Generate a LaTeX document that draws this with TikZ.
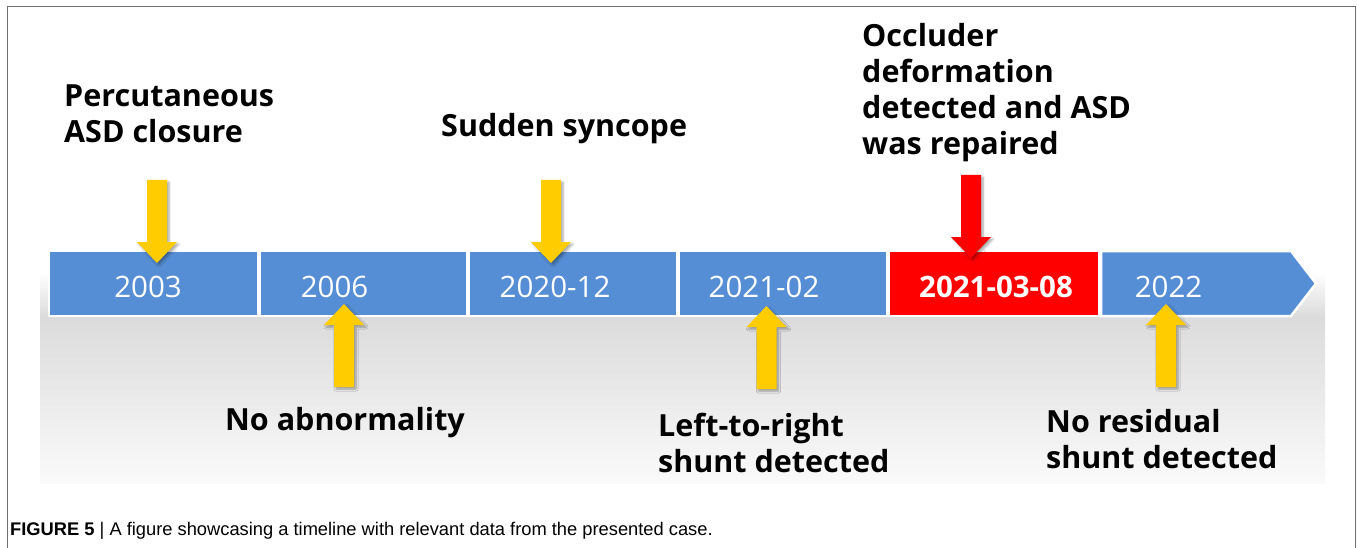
\documentclass[tikz,border=0pt]{standalone}
\usepackage{fontspec}
\setmainfont{Open Sans}
\newfontfamily\capfont{Liberation Sans}
\usetikzlibrary{shadows.blur}
\definecolor{segblue}{HTML}{558ED5}
\definecolor{segred}{HTML}{FF0000}
\definecolor{arrowyellow}{HTML}{FFCC00}
\definecolor{framegray}{HTML}{6E6E6E}
\newcommand\DownArrow[3]{%
  \fill[arrowsh,fill=#3] (#1-10,#2-83) -- (#1+10,#2-83) -- (#1+10,#2-21) -- (#1+20,#2-21) -- (#1,#2) -- (#1-20,#2-21) -- (#1-10,#2-21) -- cycle;}
\newcommand\UpArrow[3]{%
  \fill[arrowsh,fill=#3] (#1-10,#2+83) -- (#1+10,#2+83) -- (#1+10,#2+21) -- (#1+20,#2+21) -- (#1,#2) -- (#1-20,#2+21) -- (#1-10,#2+21) -- cycle;}
\begin{document}
\begin{tikzpicture}[x=1pt,y=-1pt,
  seg/.style={fill=segblue,draw=white,line width=2.5pt},
  arrowsh/.style={blur shadow={shadow xshift=2pt,shadow yshift=-2pt,shadow blur steps=6,shadow opacity=35}},
  evt/.style={font=\fontsize{30.5}{36}\selectfont\bfseries,align=left,anchor=base west,inner sep=0pt,text=black},
  yr/.style={font=\fontsize{29.5}{34}\selectfont,text=white,anchor=base,inner sep=0pt}]
\useasboundingbox (0,0) rectangle (1357,548);
% frame
\draw[framegray,line width=1.3pt] (7.5,548) -- (7.5,6.5) -- (1355.5,6.5) -- (1355.5,548);
% reflection shadow
\shade[top color=white,bottom color=black!14] (40,272) rectangle (1325,317);
\shade[top color=black!14,bottom color=black!2] (40,317) rectangle (1325,483);
% timeline segments
\path[seg] (49,251) rectangle (258,316);
\path[seg] (260,251) rectangle (467,316);
\path[seg] (469,251) rectangle (677,316);
\path[seg] (679,251) rectangle (887,316);
\path[seg,fill=segred] (889,251) rectangle (1099,316);
\path[seg] (1101,251) -- (1291,251) -- (1316,283.5) -- (1291,316) -- (1101,316) -- cycle;
% year labels
\node[yr] (y1) at (148,297) {2003};
\node[yr] (y2) at (334.5,297) {2006};
\node[yr] (y3) at (555,297) {2020-12};
\node[yr] (y4) at (764,297) {2021-02};
\node[yr,font=\fontsize{29.5}{34}\selectfont\bfseries] (y5) at (996,297) {2021-03-08};
\node[yr] (y6) at (1168.5,297) {2022};
% arrows
\DownArrow{157}{263}{arrowyellow}
\DownArrow{551}{263}{arrowyellow}
\DownArrow{971}{258}{segred}
\UpArrow{344}{304}{arrowyellow}
\UpArrow{766.5}{306}{arrowyellow}
\UpArrow{1166}{304}{arrowyellow}
% event labels (anchor at baseline of last line)
\node[evt] (e1) at (64,143) {Percutaneous\\ASD closure};
\node[evt] (e2) at (441,137) {Sudden syncope};
\node[evt] (e3) at (862,155) {Occluder\\deformation\\detected and ASD\\was repaired};
\node[evt] (e4) at (225,430) {No abnormality};
\node[evt] (e5) at (658,472) {Left-to-right\\shunt detected};
\node[evt] (e6) at (1046,468) {No residual\\shunt detected};
% caption
\node[anchor=base west,inner sep=0pt,font=\capfont\fontsize{18.3}{21}\selectfont] (cap) at (10,535)
  {\textbf{FIGURE 5} | A figure showcasing a timeline with relevant data from the presented case.};
\end{tikzpicture}
\end{document}
